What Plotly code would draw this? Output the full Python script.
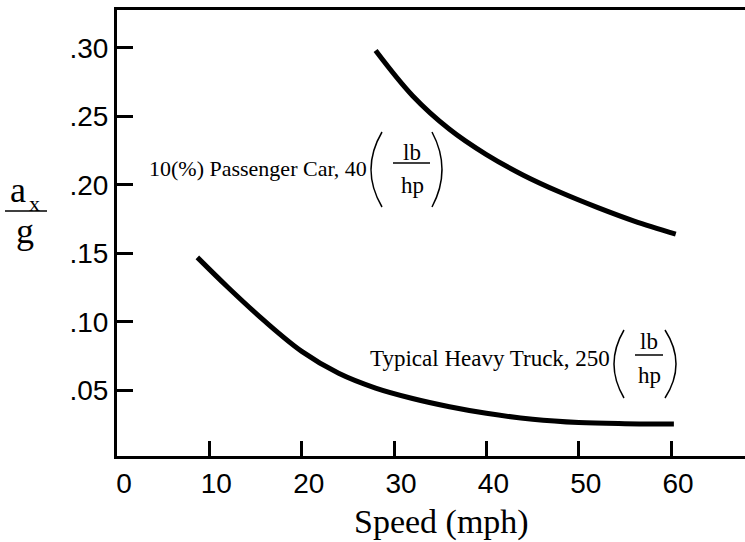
import plotly.graph_objects as go

# ---- data ----
car_speed = [28.0, 32.0, 36.0, 40.0, 44.0, 48.0, 52.0, 56.0, 60.5]
car_ax_g = [0.298, 0.265, 0.2405, 0.222, 0.207, 0.1945, 0.1835, 0.1735, 0.164]

truck_speed = [8.7, 12.0, 16.0, 20.0, 24.0, 28.0, 32.0, 36.0, 40.0, 45.0, 50.0, 55.0, 60.3]
truck_ax_g = [0.147, 0.1252, 0.1004, 0.0784, 0.0624, 0.0516, 0.044, 0.038, 0.0332, 0.0288,
              0.0264, 0.0256, 0.0254]

x_tickvals = [0, 10, 20, 30, 40, 50, 60]
x_ticktext = ["0", "10", "20", "30", "40", "50", "60"]
y_tickvals = [0.05, 0.10, 0.15, 0.20, 0.25, 0.30]
y_ticktext = [".05", ".10", ".15", ".20", ".25", ".30"]

car_label = "10(%) Passenger Car, 40"
truck_label = "Typical Heavy Truck, 250"
x_title = "Speed (mph)"

# ---- layout geometry ----
W, H = 745, 542
L, R, T, B = 117, 0, 10, 86
PW, PH = W - L - R, H - T - B


def px(x):
    return (x - L) / PW


def py(y):
    return (T + PH - y) / PH


SERIF = "Liberation Serif, Times New Roman, serif"
SANS = "Liberation Sans, Arial, Helvetica, sans-serif"

fig = go.Figure()
fig.add_trace(go.Scatter(x=car_speed, y=car_ax_g, mode="lines",
                         line=dict(color="black", width=5, shape="spline"),
                         showlegend=False, hoverinfo="skip"))
fig.add_trace(go.Scatter(x=truck_speed, y=truck_ax_g, mode="lines",
                         line=dict(color="black", width=5, shape="spline"),
                         showlegend=False, hoverinfo="skip"))

annotations = []


def txt(text, x, y, size, xanchor="center", family=SERIF):
    annotations.append(dict(text=text, x=px(x), y=py(y), xref="paper", yref="paper",
                            xanchor=xanchor, yanchor="middle", showarrow=False,
                            font=dict(family=family, size=size, color="black")))


shapes = []


def paren(x_end, x_mid, y0, y1):
    c = 2 * x_mid - x_end
    ym = (y0 + y1) / 2
    shapes.append(dict(type="path", xref="paper", yref="paper",
                       path=f"M {px(x_end)} {py(y0)} Q {px(c)} {py(ym)} {px(x_end)} {py(y1)}",
                       line=dict(color="black", width=1.5)))


def bar(x0, x1, y):
    shapes.append(dict(type="line", xref="paper", yref="paper",
                       x0=px(x0), x1=px(x1), y0=py(y), y1=py(y),
                       line=dict(color="black", width=1.5)))


# passenger car label
txt(car_label, 369, 168, 22, xanchor="right")
paren(382, 371, 132, 207)
paren(432, 442, 132, 207)
bar(393, 430, 163)
txt("lb", 412, 152, 23)
txt("hp", 412, 185, 23)

# truck label
txt(truck_label, 612, 358, 23, xanchor="right")
paren(624, 614, 330, 398)
paren(665, 676, 330, 398)
bar(635, 663, 355)
txt("lb", 649, 342, 23)
txt("hp", 649, 375, 23)

# y-axis title (a_x / g)
txt("a", 18, 190, 36)
txt("x", 34, 203, 22)
bar(5, 47, 211)
txt("g", 25, 231, 36)

# x-axis title
txt(x_title, 441, 522, 34)

fig.update_layout(
    width=W, height=H,
    margin=dict(l=L, r=R, t=T, b=B),
    paper_bgcolor="white", plot_bgcolor="white",
    showlegend=False,
    annotations=annotations,
    shapes=shapes,
    xaxis=dict(range=[0, 68], tickvals=x_tickvals, ticktext=x_ticktext,
               ticks="inside", ticklen=15, tickwidth=2.5, tickcolor="black",
               showline=True, linewidth=3, linecolor="black", mirror=True,
               showgrid=False, zeroline=False, ticklabelshift=7,
               tickfont=dict(family=SANS, size=28, color="black")),
    yaxis=dict(range=[0.002, 0.3276], tickvals=y_tickvals, ticktext=y_ticktext,
               ticks="inside", ticklen=16, tickwidth=3, tickcolor="black",
               showline=True, linewidth=3, linecolor="black", mirror=False,
               showgrid=False, zeroline=False,
               tickfont=dict(family=SANS, size=28, color="black")),
)

fig.write_html("out.html")
